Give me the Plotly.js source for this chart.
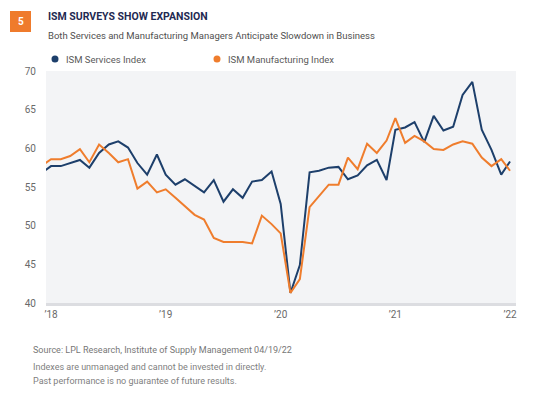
<!DOCTYPE html>
<html>
<head>
<meta charset="utf-8">
<script src="https://cdn.plot.ly/plotly-3.0.1.min.js"></script>
<style>html,body{margin:0;padding:0;background:#fff;}#chart{width:539px;height:396px;}</style>
</head>
<body>
<div id="chart"></div>
<script>
// Monthly dates, Feb 2018 - Mar 2022
const months = [
 "2018-02-01","2018-03-01","2018-04-01","2018-05-01","2018-06-01","2018-07-01","2018-08-01","2018-09-01","2018-10-01","2018-11-01","2018-12-01",
 "2019-01-01","2019-02-01","2019-03-01","2019-04-01","2019-05-01","2019-06-01","2019-07-01","2019-08-01","2019-09-01","2019-10-01","2019-11-01","2019-12-01",
 "2020-01-01","2020-02-01","2020-03-01","2020-04-01","2020-05-01","2020-06-01","2020-07-01","2020-08-01","2020-09-01","2020-10-01","2020-11-01","2020-12-01",
 "2021-01-01","2021-02-01","2021-03-01","2021-04-01","2021-05-01","2021-06-01","2021-07-01","2021-08-01","2021-09-01","2021-10-01","2021-11-01","2021-12-01",
 "2022-01-01","2022-02-01","2022-03-01"
];
const servicesIndex = [
 56.9,57.7,57.7,58.1,58.5,57.5,59.4,60.5,60.9,60.1,58.1,
 56.6,59.2,56.6,55.3,56.0,55.1,54.3,55.9,53.1,54.7,53.6,55.7,
 55.9,57.0,52.8,41.3,44.9,56.9,57.1,57.5,57.6,56.0,56.5,57.8,
 58.5,55.9,62.4,62.7,63.4,60.8,64.2,62.3,62.8,66.9,68.6,62.4,
 59.8,56.6,58.3
];
const manufacturingIndex = [
 57.8,58.6,58.6,59.0,59.9,58.2,60.5,59.4,58.2,58.6,54.8,
 55.7,54.3,54.7,53.6,52.5,51.4,50.8,48.4,47.9,47.9,47.9,47.7,
 51.3,50.2,49.0,41.3,43.1,52.4,53.8,55.3,55.3,58.8,57.3,60.6,
 59.4,61.0,63.9,60.7,61.6,60.9,59.9,59.8,60.5,60.9,60.6,58.8,
 57.7,58.6,57.1
];
const tickDates = ["2018-03-01","2019-03-01","2020-03-01","2021-03-01","2022-03-01"];
const tickLabels = ["’18","’19","’20","’21","’22"];
const seriesNames = ["ISM Services Index","ISM Manufacturing Index"];
const colors = ["#1d3f6b","#ef7d2d"];

const FONT = "Roboto, 'Open Sans', sans-serif";

const traces = [
  {x: months, y: servicesIndex, name: seriesNames[0], type: "scatter", mode: "lines",
   line: {color: colors[0], width: 2}, cliponaxis: true},
  {x: months, y: manufacturingIndex, name: seriesNames[1], type: "scatter", mode: "lines",
   line: {color: colors[1], width: 2}, cliponaxis: true}
];

const H = 232, W = 470, B = 93;
const py = yy => (396 - B - yy) / H;   // page y pixel -> paper y
const px = xx => (xx - 46) / W;        // page x pixel -> paper x

const layout = {
  width: 539, height: 396,
  margin: {l: 46, r: 23, t: 71, b: 93},
  paper_bgcolor: "#ffffff",
  plot_bgcolor: "#f3f4f6",
  showlegend: false,
  font: {family: FONT, size: 10, color: "#666"},
  xaxis: {
    type: "date",
    range: ["2018-02-13", "2022-03-20"],
    tickmode: "array", tickvals: tickDates, ticktext: tickLabels,
    showgrid: false, zeroline: false,
    showline: true, linecolor: "#dcdde1", linewidth: 3,
    ticks: "", ticklen: 0,
    tickfont: {family: FONT, size: 10, color: "#6a6a6a"}
  },
  yaxis: {
    range: [40, 70], dtick: 5, tick0: 40,
    showgrid: false, zeroline: false, showline: false,
    ticks: "", ticklabelstandoff: 9,
    tickfont: {family: FONT, size: 10, color: "#6a6a6a"}
  },
  shapes: [
    {type: "rect", xref: "paper", yref: "paper",
     x0: px(10), x1: px(31), y0: py(11), y1: py(32),
     fillcolor: "#ef7b2c", line: {width: 0}},
    {type: "circle", xref: "paper", yref: "paper",
     x0: px(51.5), x1: px(58.5), y0: py(55.5), y1: py(62.5),
     fillcolor: colors[0], line: {width: 0}},
    {type: "circle", xref: "paper", yref: "paper",
     x0: px(213.5), x1: px(220.5), y0: py(55.5), y1: py(62.5),
     fillcolor: colors[1], line: {width: 0}}
  ],
  annotations: [
    {xref: "paper", yref: "paper", x: px(20.5), y: py(21.5), text: "<b>5</b>",
     showarrow: false, font: {family: FONT, size: 10, color: "#ffffff"}, xanchor: "center", yanchor: "middle"},
    {xref: "paper", yref: "paper", x: 0, y: py(16), text: "<b>ISM SURVEYS SHOW EXPANSION</b>",
     showarrow: false, xanchor: "left", yanchor: "middle", font: {family: FONT, size: 10.5, color: "#1f2a52"}},
    {xref: "paper", yref: "paper", x: 0, y: py(35), text: "Both Services and Manufacturing Managers Anticipate Slowdown in Business",
     showarrow: false, xanchor: "left", yanchor: "middle", font: {family: FONT, size: 9.5, color: "#505050"}},
    {xref: "paper", yref: "paper", x: px(64), y: py(59), text: seriesNames[0],
     showarrow: false, xanchor: "left", yanchor: "middle", font: {family: FONT, size: 9.5, color: "#5a5a5a"}},
    {xref: "paper", yref: "paper", x: px(226), y: py(59), text: seriesNames[1],
     showarrow: false, xanchor: "left", yanchor: "middle", font: {family: FONT, size: 9.5, color: "#5a5a5a"}},
    {xref: "paper", yref: "paper", x: px(31), y: py(350), text: "Source: LPL Research, Institute of Supply Management 04/19/22",
     showarrow: false, xanchor: "left", yanchor: "middle", font: {family: FONT, size: 9, color: "#777"}},
    {xref: "paper", yref: "paper", x: px(31), y: py(366.5), text: "Indexes are unmanaged and cannot be invested in directly.",
     showarrow: false, xanchor: "left", yanchor: "middle", font: {family: FONT, size: 9, color: "#808080"}},
    {xref: "paper", yref: "paper", x: px(31), y: py(380.5), text: "Past performance is no guarantee of future results.",
     showarrow: false, xanchor: "left", yanchor: "middle", font: {family: FONT, size: 9, color: "#808080"}}
  ]
};

Plotly.newPlot("chart", traces, layout, {staticPlot: true, displayModeBar: false});
</script>
</body>
</html>
